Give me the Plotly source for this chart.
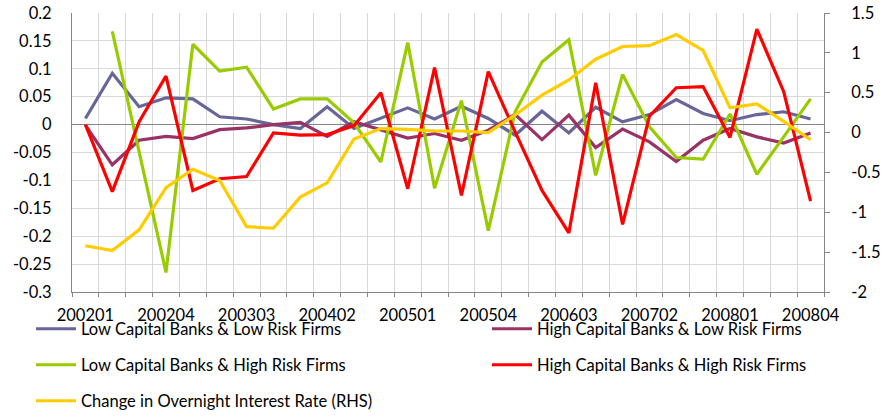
import plotly.graph_objects as go

# quarters 2002Q1 .. 2008Q4
quarters = ["%d0%d" % (y, q) for y in range(2002, 2009) for q in range(1, 5)]

low_cap_low_risk = [0.011, 0.092, 0.032, 0.048, 0.046, 0.014, 0.010, 0.000, -0.007, 0.032,
                    -0.007, 0.011, 0.030, 0.010, 0.033, 0.011, -0.019, 0.024, -0.015, 0.031,
                    0.005, 0.018, 0.045, 0.020, 0.007, 0.018, 0.023, 0.010]
high_cap_low_risk = [-0.001, -0.072, -0.028, -0.021, -0.025, -0.009, -0.006, 0.000, 0.004, -0.021,
                     0.005, -0.010, -0.024, -0.016, -0.028, -0.010, 0.018, -0.027, 0.017, -0.041,
                     -0.008, -0.031, -0.066, -0.028, -0.007, -0.022, -0.033, -0.015]
low_cap_high_risk = [None, 0.167, -0.049, -0.265, 0.144, 0.096, 0.103, 0.028, 0.046, 0.046,
                     0.003, -0.067, 0.147, -0.114, 0.043, -0.190, 0.023, 0.112, 0.152, -0.091,
                     0.090, -0.004, -0.059, -0.062, 0.019, -0.089, -0.022, 0.046]
high_cap_high_risk = [0.000, -0.120, 0.005, 0.087, -0.118, -0.097, -0.093, -0.015, -0.019, -0.018,
                      -0.002, 0.057, -0.115, 0.102, -0.127, 0.095, -0.013, -0.118, -0.194, 0.075,
                      -0.179, 0.015, 0.066, 0.068, -0.023, 0.171, 0.059, -0.137]
overnight_rate_chg = [-1.42, -1.48, -1.22, -0.69, -0.46, -0.60, -1.18, -1.20, -0.81, -0.63,
                      -0.08, 0.05, 0.04, 0.02, 0.02, 0.00, 0.22, 0.47, 0.66, 0.92,
                      1.08, 1.09, 1.23, 1.03, 0.31, 0.36, 0.14, -0.09]

left_ticks = [0.2, 0.15, 0.1, 0.05, 0, -0.05, -0.1, -0.15, -0.2, -0.25, -0.3]
right_ticks = [1.5, 1, 0.5, 0, -0.5, -1, -1.5, -2]

xidx = list(range(len(quarters)))
font = "Lato"
fsize = 16.5
W, H = 886, 417

series = [
    ("Low Capital Banks & Low Risk Firms", low_cap_low_risk, "#666699", "y", "legend"),
    ("High Capital Banks & Low Risk Firms", high_cap_low_risk, "#993366", "y", "legend2"),
    ("Low Capital Banks & High Risk Firms", low_cap_high_risk, "#99CC00", "y", "legend3"),
    ("High Capital Banks & High Risk Firms", high_cap_high_risk, "#FF0000", "y", "legend4"),
    ("Change in Overnight Interest Rate (RHS)", overnight_rate_chg, "#FFCC00", "y2", "legend5"),
]

fig = go.Figure()
for name, vals, col, ax, leg in series:
    fig.add_trace(go.Scatter(
        x=xidx, y=vals, name=name, mode="lines", yaxis=ax, legend=leg,
        line=dict(color=col, width=3.2),
    ))

fig.update_xaxes(
    range=[-0.5, len(quarters) - 0.5],
    tickvals=xidx[::3], ticktext=quarters[::3],
    showgrid=False, zeroline=False,
    showline=True, linecolor="#868686", linewidth=1,
    ticks="", ticklabelstandoff=8,
    minor=dict(tickvals=[i - 0.5 for i in range(len(quarters) + 1)],
               showgrid=True, gridcolor="#D9D9D9", gridwidth=1,
               ticks="outside", ticklen=4, tickcolor="#868686"),
    tickfont=dict(family=font, size=fsize, color="black"),
)
fig.update_layout(
    width=W, height=H,
    margin=dict(l=72, r=62, t=13, b=125, autoexpand=False),
    plot_bgcolor="white", paper_bgcolor="white",
    showlegend=True,
    yaxis=dict(
        range=[-0.3, 0.2], tickvals=left_ticks, ticktext=[str(v) for v in left_ticks],
        showgrid=True, gridcolor="#D9D9D9", gridwidth=1,
        zeroline=True, zerolinecolor="#868686", zerolinewidth=1,
        showline=True, linecolor="#868686", linewidth=1,
        ticklabelstandoff=16, ticklabeloverflow="allow",
        tickfont=dict(family=font, size=fsize, color="black"),
    ),
    yaxis2=dict(
        range=[-2, 1.5], overlaying="y", side="right",
        tickvals=right_ticks, ticktext=[str(v) for v in right_ticks],
        showgrid=False, zeroline=False,
        showline=True, linecolor="#868686", linewidth=1,
        ticks="outside", ticklen=5, tickcolor="#868686",
        ticklabelstandoff=18, ticklabeloverflow="allow",
        tickfont=dict(family=font, size=fsize, color="black"),
    ),
)

leg_font = dict(family=font, size=fsize, color="black")
legend_pos = {
    "legend": (31, 329), "legend2": (487, 329),
    "legend3": (31, 365), "legend4": (487, 365),
    "legend5": (31, 401),
}
for key, (px, py) in legend_pos.items():
    fig.update_layout({key: dict(
        xref="container", yref="container",
        x=px / W, y=1 - py / H, xanchor="left", yanchor="middle",
        orientation="h", font=leg_font, bgcolor="rgba(0,0,0,0)",
        itemwidth=40,
    )})

# drop the default 8px body margin so the figure fills the window
fig.write_html("out.html", config={"displayModeBar": False},
               post_script="document.body.style.margin = '0';")
